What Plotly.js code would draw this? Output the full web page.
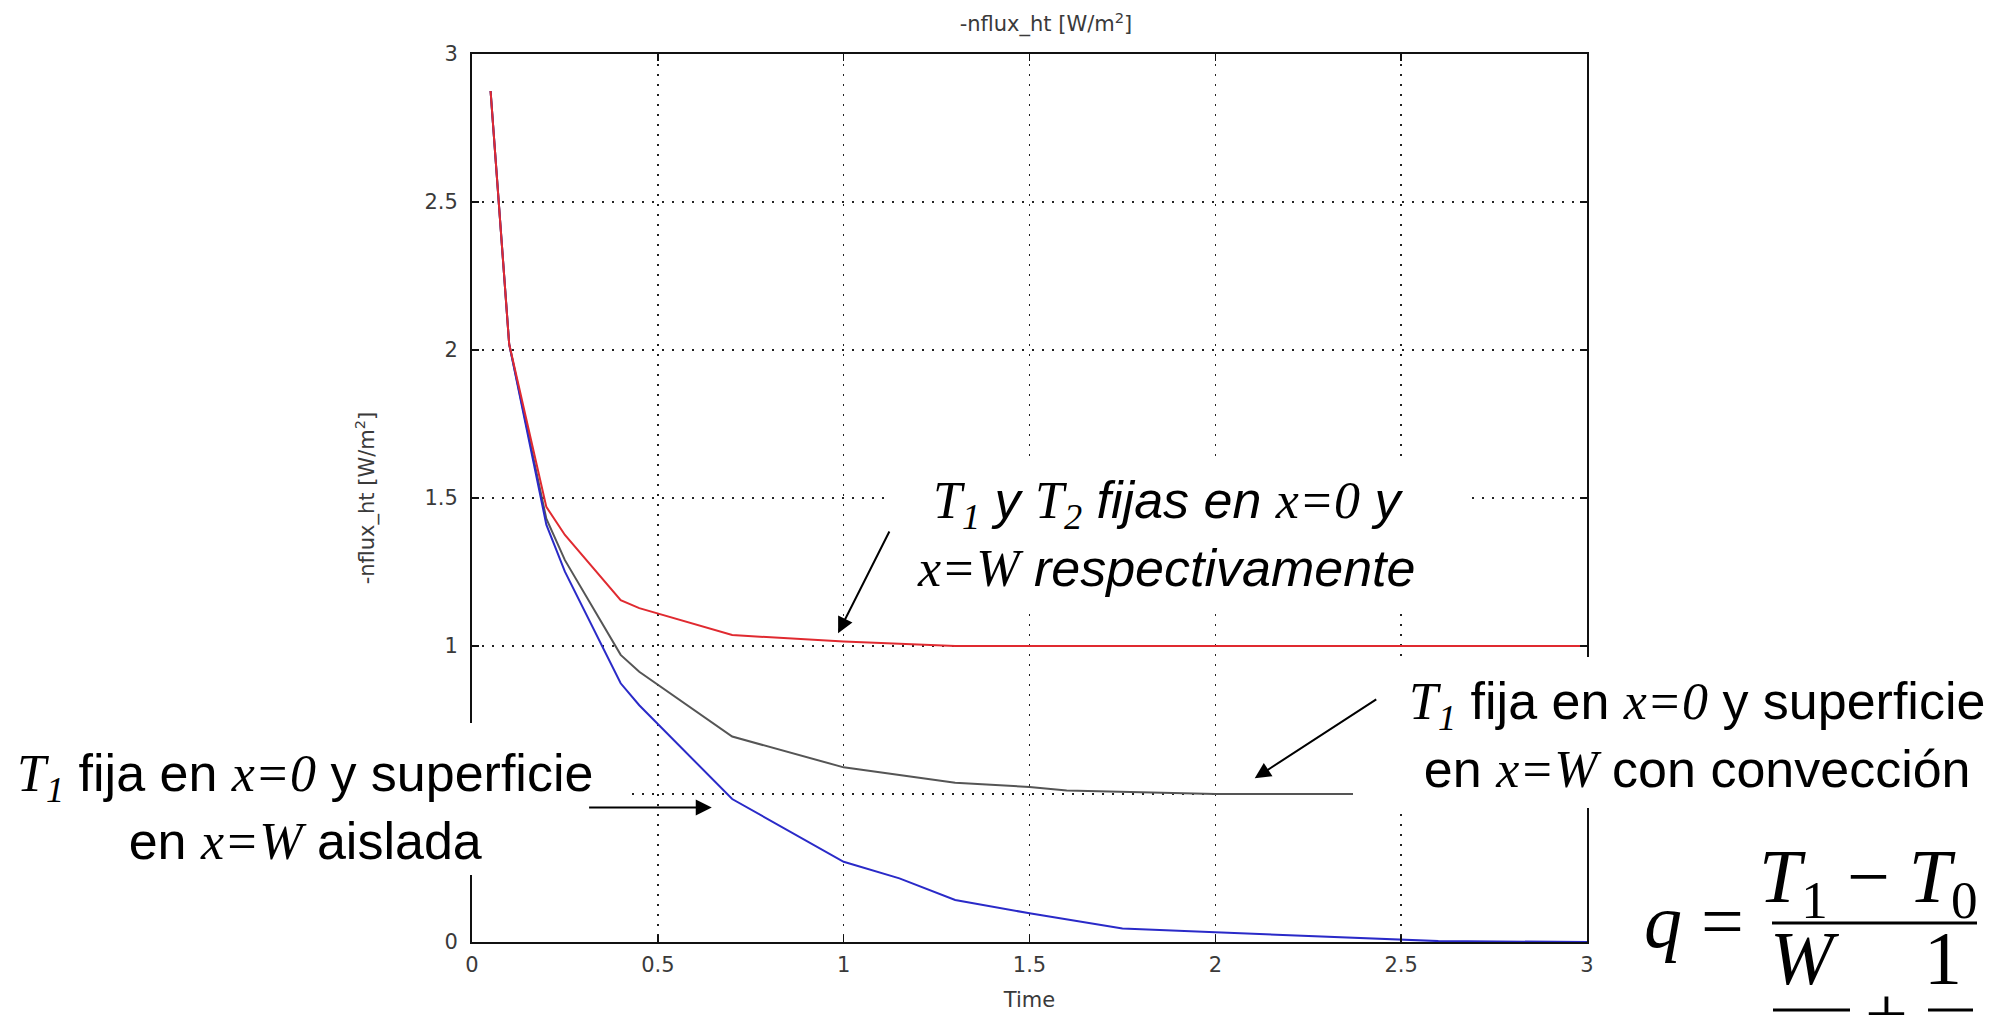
<!DOCTYPE html>
<html>
<head>
<meta charset="utf-8">
<script src="https://cdn.plot.ly/plotly-3.0.1.min.js"></script>
<style>
  html, body { margin: 0; padding: 0; background: #ffffff; }
  #plotly-plot { width: 2010px; height: 1015px; }
</style>
</head>
<body>
<div id="plotly-plot"></div>
<script>
// data
const time_red = [0.05, 0.1, 0.2, 0.25, 0.4, 0.45, 0.7, 1.0, 1.3, 1.6, 2.0, 2.5, 3.0];
const flux_red = [2.875, 2.02, 1.47, 1.375, 1.155, 1.128, 1.037, 1.015, 1.0, 1.0, 1.0, 1.0, 1.0];

const time_gray = [0.05, 0.1, 0.2, 0.25, 0.4, 0.45, 0.7, 1.0, 1.3, 1.5, 1.6, 1.8, 1.95, 2.0, 2.5, 3.0];
const flux_gray = [2.875, 2.02, 1.43, 1.29, 0.97, 0.913, 0.694, 0.59, 0.538, 0.524, 0.512, 0.506, 0.502, 0.5, 0.5, 0.5];

const time_blue = [0.05, 0.1, 0.2, 0.25, 0.4, 0.45, 0.7, 1.0, 1.15, 1.3, 1.5, 1.75, 2.0, 2.15, 2.4, 2.5, 2.6, 3.0];
const flux_blue = [2.875, 2.02, 1.41, 1.251, 0.874, 0.80, 0.483, 0.271, 0.215, 0.142, 0.097, 0.046, 0.033, 0.026, 0.012, 0.008, 0.003, 0.0];

const x_ticks = [0, 0.5, 1, 1.5, 2, 2.5, 3];
const x_labels = ["0", "0.5", "1", "1.5", "2", "2.5", "3"];
const y_ticks = [0, 0.5, 1, 1.5, 2, 2.5, 3];
// the 0.5 label is hidden behind the left note in the picture
const y_labels = ["0", "", "1", "1.5", "2", "2.5", "3"];

// plot box in page pixels
const W = 2010, H = 1015;
const L = 472, R = 1587, T = 54, B = 942;
function px(x) { return (x - L) / (R - L); }
function py(y) { return (B - y) / (B - T); }

const serif = "Liberation Serif, Times New Roman, serif";
function tm(s) { return '<span style="font-family:' + serif + '"><i>' + s + '</i></span>'; }

var trace_red = {
    name: 'T1 y T2 fijas',
    x: time_red, y: flux_red,
    type: 'scatter', mode: 'lines',
    line: { color: '#e02a30', width: 2 }
};
var trace_gray = {
    name: 'conveccion',
    x: time_gray, y: flux_gray,
    type: 'scatter', mode: 'lines',
    line: { color: '#555555', width: 2 }
};
var trace_blue = {
    name: 'aislada',
    x: time_blue, y: flux_blue,
    type: 'scatter', mode: 'lines',
    line: { color: '#2a2ac8', width: 2 }
};
var data = [trace_gray, trace_blue, trace_red];

var axis_font = { family: 'DejaVu Sans, sans-serif', size: 21, color: '#3a3a3a' };

function white_box(x0, x1, y0, y1) {
    return { type: 'rect', xref: 'paper', yref: 'paper', layer: 'above',
             x0: px(x0), x1: px(x1), y0: py(y1), y1: py(y0),
             fillcolor: '#ffffff', line: { width: 0 } };
}
function bar(x0, x1, y) {
    return { type: 'line', xref: 'paper', yref: 'paper', layer: 'above',
             x0: px(x0), x1: px(x1), y0: py(y), y1: py(y),
             line: { color: '#000000', width: 3 } };
}
function label(x, y, text, size) {
    return { xref: 'paper', yref: 'paper', x: px(x), y: py(y), text: text,
             showarrow: false, xanchor: 'center', yanchor: 'middle', align: 'center',
             font: { family: 'Liberation Sans, Arial, sans-serif', size: size, color: '#000000' } };
}
function arrow(x_head, y_head, x_tail, y_tail) {
    return { xref: 'x', yref: 'y', axref: 'x', ayref: 'y',
             x: x_head, y: y_head, ax: x_tail, ay: y_tail, text: '',
             showarrow: true, arrowhead: 2, arrowsize: 1.6, arrowwidth: 2, arrowcolor: '#000000' };
}

var ann_top = '<i>' + tm('T<sub>1</sub>') + ' y ' + tm('T<sub>2</sub>') + ' fijas en ' + tm('x=0') + ' y<br>' +
              tm('x=W') + ' respectivamente</i>';
var ann_right = tm('T<sub>1</sub>') + ' fija en ' + tm('x=0') + ' y superficie<br>en ' + tm('x=W') + ' con convección';
var ann_left = tm('T<sub>1</sub>') + ' fija en ' + tm('x=0') + ' y superficie<br>en ' + tm('x=W') + ' aislada';

function formula(x, y, text) {
    return { xref: 'paper', yref: 'paper', x: px(x), y: py(y), text: text,
             showarrow: false, xanchor: 'center', yanchor: 'middle',
             font: { family: serif, size: 76, color: '#000000' } };
}

var layout = {
    width: W, height: H,
    margin: { l: L, r: W - R, t: T, b: H - B, pad: 0 },
    paper_bgcolor: '#ffffff',
    plot_bgcolor: '#ffffff',
    showlegend: false,
    title: {
        text: '-nflux_ht [W/m<sup>2</sup>]',
        font: axis_font,
        xref: 'paper', x: px(1046), xanchor: 'center',
        yref: 'container', y: 1 - 24 / H, yanchor: 'middle'
    },
    xaxis: {
        range: [0, 3],
        tickmode: 'array', tickvals: x_ticks, ticktext: x_labels,
        tickfont: axis_font, ticklabelstandoff: 3,
        ticks: 'inside', ticklen: 7, tickwidth: 1.5, tickcolor: '#111111',
        showline: true, linecolor: '#111111', linewidth: 2, mirror: 'ticks',
        showgrid: true, gridcolor: '#222222', gridwidth: 1.5, griddash: '2px,8px',
        zeroline: false,
        title: { text: 'Time', font: axis_font, standoff: 16 }
    },
    yaxis: {
        range: [0, 3],
        tickmode: 'array', tickvals: y_ticks, ticktext: y_labels,
        tickfont: axis_font, ticklabelstandoff: 8,
        ticks: 'inside', ticklen: 7, tickwidth: 1.5, tickcolor: '#111111',
        showline: true, linecolor: '#111111', linewidth: 2, mirror: 'ticks',
        showgrid: true, gridcolor: '#222222', gridwidth: 1.5, griddash: '2px,8px',
        zeroline: false,
        title: { text: '-nflux_ht [W/m<sup>2</sup>]', font: axis_font, standoff: 44 }
    },
    shapes: [
        white_box(885, 1465, 460, 608),
        white_box(1353, 2010, 657, 808),
        white_box(0, 624, 723, 875),
        bar(1772, 1977, 923),
        bar(1773, 1850, 1010),
        bar(1928, 1973, 1010)
    ],
    annotations: [
        label(1166, 534, ann_top, 52),
        label(1697, 735, ann_right, 52),
        label(305, 807, ann_left, 52),
        arrow(0.985, 1.043, 1.125, 1.392),
        arrow(2.106, 0.553, 2.437, 0.823),
        arrow(0.645, 0.454, 0.311, 0.454),
        formula(1694, 921, '<i>q</i> ='),
        formula(1868, 882, '<i>T</i><sub>1</sub> − <i>T</i><sub>0</sub>'),
        formula(1805, 958, '<i>W</i>'),
        formula(1943, 958, '1'),
        formula(1886, 1013, '+')
    ]
};

// PLOTLY
Plotly.newPlot('plotly-plot', data, layout, { staticPlot: true, displayModeBar: false });
</script>
</body>
</html>
